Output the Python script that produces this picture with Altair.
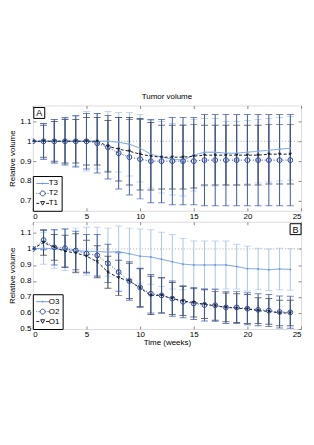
import altair as alt
import pandas as pd

weeks = list(range(25))

# Panel A (tumor volume, T series)
t_names = ["T3", "T2", "T1"]
T3 = [1, 1, 1, 1, 1, 1, 1, 1, 0.995, 0.985, 0.965, 0.935, 0.92, 0.91, 0.905, 0.93, 0.945, 0.945, 0.94, 0.94, 0.945, 0.95, 0.955, 0.96, 0.965]
T2 = [1, 1, 1, 1, 1, 1, 0.99, 0.97, 0.94, 0.92, 0.91, 0.90, 0.90, 0.90, 0.90, 0.90, 0.905, 0.905, 0.905, 0.905, 0.905, 0.905, 0.905, 0.905, 0.905]
T1 = [1, 1, 1, 1, 1, 1, 1, 0.975, 0.96, 0.95, 0.935, 0.925, 0.92, 0.92, 0.92, 0.925, 0.93, 0.93, 0.93, 0.93, 0.93, 0.93, 0.935, 0.935, 0.935]
T3_err = [0, 0.09, 0.11, 0.115, 0.125, 0.15, 0.14, 0.15, 0.15, 0.16, 0.17, 0.17, 0.18, 0.18, 0.18, 0.18, 0.17, 0.17, 0.16, 0.16, 0.16, 0.16, 0.16, 0.16, 0.16]
T2_err = [0, 0.09, 0.11, 0.12, 0.13, 0.14, 0.15, 0.16, 0.18, 0.19, 0.20, 0.21, 0.21, 0.22, 0.22, 0.22, 0.23, 0.23, 0.23, 0.23, 0.23, 0.23, 0.23, 0.23, 0.23]
T1_err = [0, 0.08, 0.10, 0.11, 0.11, 0.12, 0.12, 0.13, 0.16, 0.17, 0.18, 0.17, 0.16, 0.16, 0.16, 0.16, 0.15, 0.15, 0.15, 0.15, 0.15, 0.15, 0.15, 0.15, 0.15]

# Panel B (O series)
o_names = ["O3", "O2", "O1"]
O3 = [1, 1.005, 1.0, 0.995, 0.99, 0.985, 0.985, 0.98, 0.983, 0.97, 0.955, 0.95, 0.935, 0.92, 0.905, 0.90, 0.90, 0.90, 0.90, 0.89, 0.877, 0.875, 0.87, 0.875, 0.872]
O2 = [1, 1.055, 1.01, 1.005, 0.99, 0.97, 0.96, 0.91, 0.856, 0.80, 0.76, 0.72, 0.71, 0.69, 0.67, 0.66, 0.65, 0.648, 0.635, 0.635, 0.627, 0.62, 0.615, 0.606, 0.604]
O1 = [1, 1.04, 1.01, 0.985, 0.975, 0.955, 0.92, 0.855, 0.82, 0.80, 0.756, 0.71, 0.71, 0.69, 0.675, 0.665, 0.655, 0.645, 0.635, 0.63, 0.625, 0.615, 0.61, 0.60, 0.60]
O3_err = [0, 0.10, 0.12, 0.13, 0.14, 0.15, 0.15, 0.15, 0.16, 0.16, 0.17, 0.17, 0.17, 0.17, 0.16, 0.15, 0.15, 0.15, 0.15, 0.14, 0.14, 0.13, 0.13, 0.13, 0.13]
O2_err = [0, 0.06, 0.11, 0.12, 0.12, 0.12, 0.13, 0.12, 0.12, 0.12, 0.12, 0.12, 0.11, 0.11, 0.10, 0.10, 0.10, 0.10, 0.10, 0.10, 0.10, 0.10, 0.10, 0.10, 0.10]
O1_err = [0, 0.08, 0.08, 0.10, 0.12, 0.10, 0.10, 0.10, 0.11, 0.11, 0.12, 0.12, 0.11, 0.10, 0.09, 0.09, 0.09, 0.09, 0.09, 0.09, 0.09, 0.08, 0.08, 0.08, 0.08]

x_ticks = [0, 5, 10, 15, 20, 25]
a_ticks = [0.7, 0.8, 0.9, 1.0, 1.1]
b_ticks = [0.5, 0.6, 0.7, 0.8, 0.9, 1.0, 1.1]

FONT = "Liberation Sans"
line_colors = ["#6e9be0", "#2f4d9c", "#1c2130"]
bar_colors = ["#a9c4ee", "#3a58aa", "#333333"]
dashes = [[1, 0], [1, 2], [3, 2]]
shapes = ["circle", "circle", "triangle-down"]
pt_sizes = [4, 24, 12]
pt_filled = [True, False, True]
bar_order = [0, 2, 1]

legend_paths = [
    "M-1,0L2.2,0M0.45,0A0.15,0.15 0 1,0 0.75,0A0.15,0.15 0 1,0 0.45,0",
    "M-1,0L-0.85,0M-0.6,0L-0.45,0M-0.2,0L-0.05,0M1.25,0L1.4,0M1.65,0L1.8,0M2.05,0L2.2,0"
    "M-0.025,0A0.625,0.625 0 1,0 1.225,0A0.625,0.625 0 1,0 -0.025,0",
    "M-1,0L-0.25,0M1.45,0L2.2,0M0.1,-0.45L1.1,-0.45L0.6,0.45Z",
]


def make_df(names, means, errs):
    rows = []
    for n, m, e in zip(names, means, errs):
        for w, v, d in zip(weeks, m, e):
            rows.append({"week": w, "series": n, "mean": v, "lo": v - d, "hi": v + d})
    return pd.DataFrame(rows)


def panel(names, means, errs, ydom, yticks, height, letter, letter_right, xtitle, title):
    df = make_df(names, means, errs)
    xs = alt.Scale(domain=[0, 25], nice=False, zero=False)
    ys = alt.Scale(domain=ydom, nice=False, zero=False)
    xaxis = alt.Axis(values=x_ticks, grid=False, domain=False, tickSize=3, offset=-3,
                     labelPadding=2, title=xtitle, titlePadding=0, labelFontSize=8,
                     titleFontSize=8, titleFontWeight="normal", labelFont=FONT, titleFont=FONT)
    yaxis = alt.Axis(values=yticks, grid=False, domain=False, tickSize=3, offset=-3,
                     labelPadding=2, format="~g", title="Relative volume", titlePadding=3,
                     labelFontSize=8, titleFontSize=8, titleFontWeight="normal",
                     labelFont=FONT, titleFont=FONT)
    X = alt.X("week:Q", scale=xs, axis=xaxis)
    base = alt.Chart(df)
    layers = []
    ref = alt.Chart(pd.DataFrame({"v": [1.0]})).mark_rule(
        color="#a8a8a8", strokeDash=[1, 2], strokeWidth=1).encode(
        y=alt.Y("v:Q", scale=ys, axis=yaxis))
    layers.append(ref)
    for i in bar_order:
        n = names[i]
        sub = base.transform_filter(alt.datum.series == n)
        layers.append(sub.mark_rule(color=bar_colors[i], strokeWidth=1, clip=True).encode(
            x=X, y=alt.Y("lo:Q", scale=ys, axis=yaxis), y2="hi:Q"))
        for f in ["lo", "hi"]:
            layers.append(sub.mark_tick(orient="horizontal", color=bar_colors[i], size=7,
                                        thickness=1, clip=True).encode(
                x=X, y=alt.Y(f + ":Q", scale=ys, axis=yaxis)))
    for i, n in enumerate(names):
        sub = base.transform_filter(alt.datum.series == n)
        layers.append(sub.mark_line(color=line_colors[i], strokeDash=dashes[i],
                                    strokeWidth=1, clip=True).encode(
            x=X, y=alt.Y("mean:Q", scale=ys, axis=yaxis)))
    for i, n in enumerate(names):
        sub = base.transform_filter(alt.datum.series == n)
        layers.append(sub.mark_point(shape=shapes[i], filled=pt_filled[i], size=pt_sizes[i],
                                     color=line_colors[i], opacity=1, strokeWidth=1,
                                     clip=True).encode(
            x=X, y=alt.Y("mean:Q", scale=ys, axis=yaxis)))
    leg = alt.Legend(title=None, orient="bottom-left", offset=0, padding=3,
                     fillColor="white", strokeColor="black", symbolSize=64,
                     symbolStrokeWidth=1, symbolOpacity=1, labelFontSize=8, labelFont=FONT,
                     labelOffset=4, rowPadding=1, labelColor="black")
    layers.append(base.mark_point(opacity=0, filled=False, clip=True).encode(
        x=X, y=alt.Y("mean:Q", scale=ys, axis=yaxis),
        color=alt.Color("series:N", scale=alt.Scale(domain=names, range=line_colors), legend=leg),
        shape=alt.Shape("series:N", scale=alt.Scale(domain=names, range=legend_paths), legend=leg),
    ))
    # panel letter box
    if letter_right:
        bx0, bx1 = 259, 270
    else:
        bx0, bx1 = 1, 12
    layers.append(alt.Chart(pd.DataFrame({"t": [letter]})).mark_rect(
        fill="white", stroke="black", strokeWidth=1).encode(
        x=alt.value(bx0), x2=alt.value(bx1), y=alt.value(2), y2=alt.value(13)))
    layers.append(alt.Chart(pd.DataFrame({"t": [letter]})).mark_text(
        fontSize=9, font=FONT, color="black", align="center", baseline="middle").encode(
        x=alt.value((bx0 + bx1) / 2), y=alt.value(8), text="t:N"))
    main = alt.layer(*layers)
    # mirrored inward ticks on top and right edges (box on)
    xaxis_top = alt.Axis(values=x_ticks, grid=False, domain=False, tickSize=3, offset=-3,
                         labels=False, title=None, orient="top")
    yaxis_right = alt.Axis(values=yticks, grid=False, domain=False, tickSize=3, offset=-3,
                           labels=False, title=None, orient="right")
    mirror = alt.Chart(pd.DataFrame({"w": [0], "v": [1.0]})).mark_point(opacity=0).encode(
        x=alt.X("w:Q", scale=xs, axis=xaxis_top),
        y=alt.Y("v:Q", scale=ys, axis=yaxis_right))
    ch = alt.layer(main, mirror).resolve_scale(x="independent", y="independent").properties(
        width=270, height=height)
    if title:
        ch = ch.properties(title=alt.Title(title, fontSize=8, font=FONT, fontWeight="normal",
                                            offset=4, color="black"))
    return ch


pa = panel(t_names, [T3, T2, T1], [T3_err, T2_err, T1_err], [0.65, 1.18], a_ticks, 106,
           "A", False, None, "Tumor volume")
pb = panel(o_names, [O3, O2, O1], [O3_err, O2_err, O1_err], [0.5, 1.17], b_ticks, 108,
           "B", True, "Time (weeks)", None)

chart = alt.vconcat(pa, pb, spacing=11, bounds="flush").resolve_scale(
    color="independent", shape="independent"
).resolve_legend(
    color="independent", shape="independent"
).properties(
    padding={"left": 0, "top": 84, "right": 4, "bottom": 4}
).configure_view(stroke="black", strokeWidth=1).configure_axis(
    labelColor="black", titleColor="black", tickColor="black"
).configure(background="white")

chart.save("out.html", embed_options={"renderer": "svg", "actions": False})
